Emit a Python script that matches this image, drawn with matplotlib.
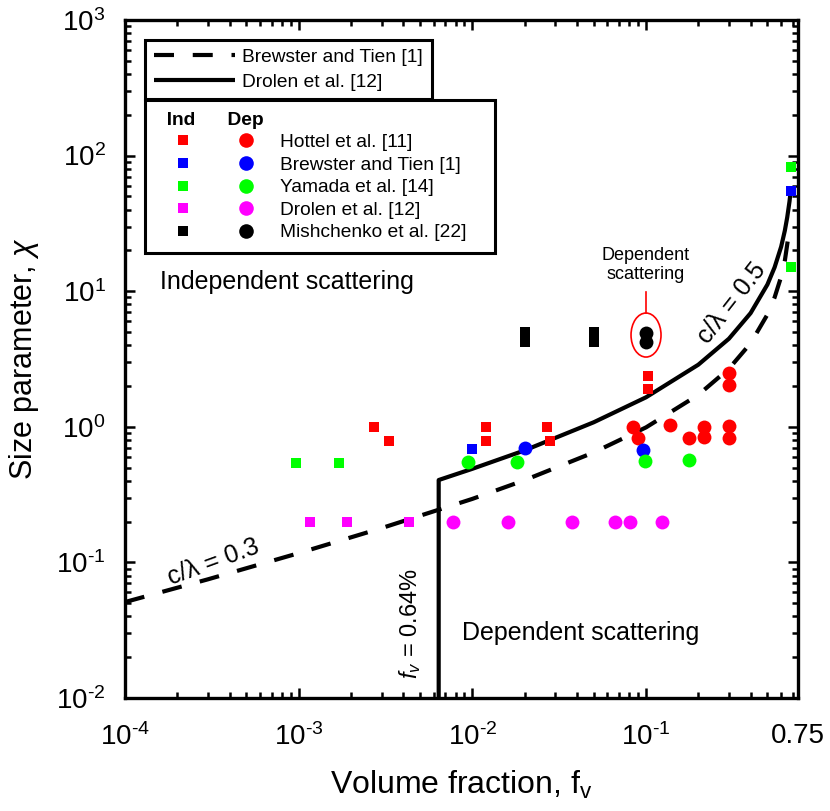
import numpy as np
import matplotlib
matplotlib.use("Agg")
import matplotlib.pyplot as plt
from matplotlib.lines import Line2D
from matplotlib.patches import Ellipse
from matplotlib.legend_handler import HandlerTuple

plt.rcParams['font.family'] = ['Liberation Sans', 'DejaVu Sans']
plt.rcParams['mathtext.fontset'] = 'custom'
plt.rcParams['mathtext.rm'] = 'Liberation Sans'
plt.rcParams['mathtext.it'] = 'Liberation Sans:italic'
plt.rcParams['mathtext.bf'] = 'Liberation Sans:bold'

# regime map boundaries
bt_fv = [1e-4, 3e-4, 1e-3, 3e-3, 1e-2, 2e-2, 5e-2, 0.1, 0.2, 0.3, 0.4, 0.5, 0.55, 0.6, 0.63, 0.665]
bt_chi = [0.051, 0.075, 0.117, 0.179, 0.294, 0.404, 0.647, 0.99, 1.72, 2.68, 4.13, 6.73, 9.0, 12.8, 16.8, 27]
dr_fv = [0.0064, 0.0064, 0.01, 0.02, 0.05, 0.1, 0.2, 0.3, 0.4, 0.5, 0.55, 0.6, 0.63, 0.65, 0.67, 0.68]
dr_chi = [0.01, 0.405, 0.49, 0.67, 1.08, 1.65, 2.87, 4.46, 6.89, 11.2, 15.0, 21.3, 28.0, 35.0, 45.8, 54]

# independent scattering experiments (squares)
hottel_ind_fv = [0.0027, 0.0033, 0.012, 0.012, 0.027, 0.028, 0.103, 0.103]
hottel_ind_chi = [1.0, 0.78, 1.0, 0.78, 1.0, 0.78, 2.35, 1.9]
brewster_ind_fv = [0.010, 0.68]
brewster_ind_chi = [0.69, 55]
yamada_ind_fv = [0.00096, 0.0017, 0.68, 0.68]
yamada_ind_chi = [0.54, 0.54, 82, 15]
drolen_ind_fv = [0.00116, 0.0019, 0.0043]
drolen_ind_chi = [0.2, 0.2, 0.2]
mish_ind_fv = [0.02, 0.02, 0.05, 0.05]
mish_ind_chi = [5.0, 4.2, 5.0, 4.2]

# dependent scattering experiments (circles)
hottel_dep_fv = [0.084, 0.09, 0.137, 0.177, 0.215, 0.215, 0.3, 0.3, 0.3, 0.3]
hottel_dep_chi = [1.0, 0.83, 1.03, 0.83, 1.0, 0.84, 2.5, 2.04, 1.02, 0.83]
brewster_dep_fv = [0.02, 0.096]
brewster_dep_chi = [0.70, 0.68]
yamada_dep_fv = [0.0095, 0.018, 0.098, 0.177]
yamada_dep_chi = [0.55, 0.55, 0.56, 0.57]
drolen_dep_fv = [0.0077, 0.016, 0.0376, 0.066, 0.081, 0.124]
drolen_dep_chi = [0.2, 0.2, 0.2, 0.2, 0.2, 0.2]
mish_dep_fv = [0.1, 0.1]
mish_dep_chi = [4.9, 4.2]

names = ['Hottel et al. [11]', 'Brewster and Tien [1]', 'Yamada et al. [14]',
         'Drolen et al. [12]', 'Mishchenko et al. [22]']
colors = ['#ff0000', '#0000ff', '#00ff00', '#ff00ff', '#000000']
ind_sets = [(hottel_ind_fv, hottel_ind_chi), (brewster_ind_fv, brewster_ind_chi),
            (yamada_ind_fv, yamada_ind_chi), (drolen_ind_fv, drolen_ind_chi),
            (mish_ind_fv, mish_ind_chi)]
dep_sets = [(hottel_dep_fv, hottel_dep_chi), (brewster_dep_fv, brewster_dep_chi),
            (yamada_dep_fv, yamada_dep_chi), (drolen_dep_fv, drolen_dep_chi),
            (mish_dep_fv, mish_dep_chi)]

xticks = [1e-4, 1e-3, 1e-2, 1e-1, 0.75]
xticklabels = ['$\\mathregular{10^{\u20104}}$', '$\\mathregular{10^{\u20103}}$',
               '$\\mathregular{10^{\u20102}}$', '$\\mathregular{10^{\u20101}}$', '0.75']
yticks = [1e-2, 1e-1, 1e0, 1e1, 1e2, 1e3]
yticklabels = ['$\\mathregular{10^{\u20102}}$', '$\\mathregular{10^{\u20101}}$',
               r'$\mathregular{10^{0}}$', r'$\mathregular{10^{1}}$',
               r'$\mathregular{10^{2}}$', r'$\mathregular{10^{3}}$']

fig = plt.figure(figsize=(8.3, 8.11), dpi=100)
ax = fig.add_axes([125/830, 1-698/811, 673/830, 678/811])
ax.set_xscale('log')
ax.set_yscale('log')
ax.set_xlim(1e-4, 0.75)
ax.set_ylim(1e-2, 1e3)

bt_line, = ax.plot(bt_fv, bt_chi, color='k', lw=3, dashes=(4.8, 4.5), zorder=2)
dr_line, = ax.plot(dr_fv, dr_chi, color='k', lw=3, solid_capstyle='butt', zorder=2)

for (fx, fy), c in zip(ind_sets, colors):
    ax.plot(fx, fy, ls='none', marker='s', ms=7.2, color=c, mew=0, zorder=3)
for (fx, fy), c in zip(dep_sets, colors):
    ax.plot(fx, fy, ls='none', marker='o', ms=10, color=c, mew=0, zorder=3)

ax.set_xticks(xticks)
ax.set_xticklabels(xticklabels)
ax.set_yticks(yticks)
ax.set_yticklabels(yticklabels)
ax.tick_params(which='both', direction='in', top=True, right=True, width=1.8)
ax.tick_params(which='major', length=7, labelsize=20)
ax.tick_params(axis='x', which='major', pad=18)
ax.tick_params(axis='y', which='major', pad=14)
ax.tick_params(which='minor', length=4)
for s in ax.spines.values():
    s.set_linewidth(2.4)

ax.set_xlabel(r'Volume fraction, f$_\mathregular{v}$', fontsize=23)
ax.set_ylabel(r'Size parameter, $\chi$', fontsize=22)
ax.xaxis.set_label_coords(0.5, -0.105)
ax.yaxis.set_label_coords(-0.125, 0.5)

# region labels
ax.text(0.2407, 0.6136, 'Independent scattering', transform=ax.transAxes,
        fontsize=18, ha='center', va='center')
ax.text(0.6776, 0.0959, 'Dependent scattering', transform=ax.transAxes,
        fontsize=18, ha='center', va='center')
ax.text(0.1308, 0.2006, 'c/λ = 0.3', transform=ax.transAxes, fontsize=18,
        ha='center', va='center', rotation=20, rotation_mode='anchor')
ax.text(0.902, 0.5826, 'c/λ = 0.5', transform=ax.transAxes, fontsize=18,
        ha='center', va='center', rotation=52, rotation_mode='anchor')
ax.text(0.4235, 0.109, r'$f_v$ = 0.64%', transform=ax.transAxes, fontsize=17,
        ha='center', va='center', rotation=90, rotation_mode='anchor')

# highlight the dependent Mishchenko points
cx, cy = ax.transAxes.inverted().transform(ax.transData.transform((0.1, 4.75)))
ax.add_patch(Ellipse((cx, cy), 30/673, 44/678, transform=ax.transAxes,
                     fill=False, edgecolor='red', lw=1.2, zorder=4))
ax.plot([cx, cx], [cy + 22/678, cy + 43/678], transform=ax.transAxes, color='red', lw=1.2)
ax.text(cx, cy + 70/678, 'Dependent\nscattering', transform=ax.transAxes, fontsize=13,
        ha='center', va='center', linespacing=1.15)

# criterion legend
leg1 = ax.legend([bt_line, dr_line], ['Brewster and Tien [1]', 'Drolen et al. [12]'],
                 loc='upper left', bbox_to_anchor=(0.0297, 0.9705), borderaxespad=0,
                 fontsize=13.8, handlelength=4.27, handletextpad=0.36, borderpad=0.45,
                 labelspacing=0.38, fancybox=False, framealpha=1, edgecolor='k')
leg1.get_frame().set_linewidth(2.2)
ax.add_artist(leg1)

# experiments legend
pairs = []
for c in colors:
    sq = Line2D([], [], ls='none', marker='s', ms=7.2, color=c, mew=0)
    ci = Line2D([], [], ls='none', marker='o', ms=10.5, color=c, mew=0)
    pairs.append((sq, ci))
leg2 = ax.legend(pairs, names, handler_map={tuple: HandlerTuple(ndivide=None, pad=0.53)},
                 loc='upper left', bbox_to_anchor=(0.0297, 0.5, 0.52, 0.382), mode='expand',
                 borderaxespad=0, fontsize=13.8, handlelength=6.03, handletextpad=0.4,
                 borderpad=0.6, labelspacing=0.27, fancybox=False, framealpha=1, edgecolor='k',
                 title='  Ind      Dep', alignment='left',
                 title_fontproperties={'weight': 'bold', 'size': 13.8})
leg2.get_frame().set_linewidth(2.2)

fig.savefig('out.png', dpi=100)
